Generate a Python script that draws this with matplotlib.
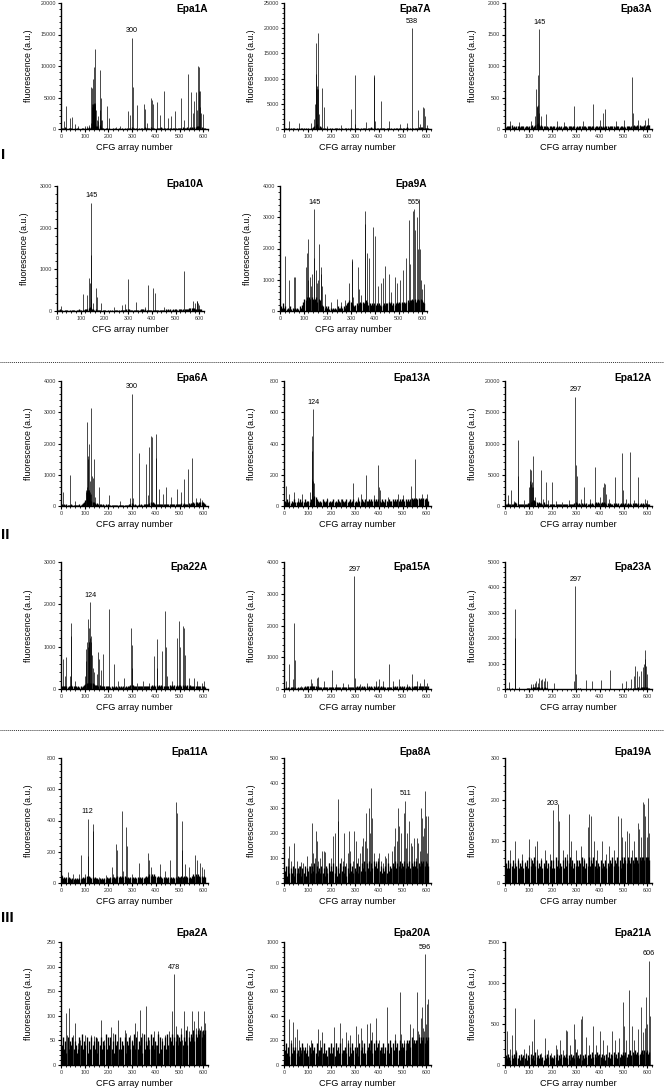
import numpy as np
import matplotlib.pyplot as plt
from matplotlib.ticker import MultipleLocator, FormatStrFormatter

plt.rcParams['font.family'] = ['Liberation Sans', 'DejaVu Sans']

W, H = 664, 1089

# ---- data ------------------------------------------------------------------
names = ['Epa1A', 'Epa7A', 'Epa3A', 'Epa10A', 'Epa9A', 'Epa6A', 'Epa13A', 'Epa12A',
         'Epa22A', 'Epa15A', 'Epa23A', 'Epa11A', 'Epa8A', 'Epa19A', 'Epa2A', 'Epa20A', 'Epa21A']
y_max = [20000, 25000, 2000, 3000, 4000, 4000, 800, 20000,
         3000, 4000, 5000, 800, 500, 300, 250, 1000, 1500]
y_step = [5000, 5000, 500, 1000, 1000, 1000, 200, 5000,
          1000, 1000, 1000, 200, 100, 100, 50, 200, 500]
labelled = [[300], [538], [145], [145], [145, 565], [300], [124], [297],
            [124], [297], [297], [112], [511], [203], [478], [596], [606]]

# background level per 5 array numbers (digit x unit)
noise_unit = [80, 100, 10, 10, 50, 20, 7, 100, 15, 15, 12, 8, 10, 7, 8, 25, 20]
epa1a_noise = "1203102110 0101100120 1213246796 5473210110 1001010010 0101010123 2101010112 3121232120 2121312101 1210121012 2131213232 3243565432 21"
epa7a_noise = "2101210120 1010121010 1012458931 5310101010 1012101010 0121012101 1210101210 1213121012 1012101210 1010121010 1213101210 1213243212 12"
epa3a_noise = "3545463534 4534543453 5463578964 6454353453 4534353435 4534543453 5345434535 4535434534 4353454345 4534543453 5345434565 5646545756 67"
epa10a_noise = "3242312231 2132213243 2324568974 5343232123 2121212132 2123232345 4323232323 4543432323 3232323232 3434343434 4345434545 6787876565 54"
epa9a_noise = "3252312131 2121213246 8797989878 9687343232 3121212132 2323245676 5434545656 5676454545 4545434545 5656454565 6565656767 7878678787 65"
epa6a_noise = "3242321232 2121232356 9978987654 5343232323 2121212121 2121212345 3232232323 3434565654 4343434343 3434343434 4545434545 5656657676 54"
epa13a_noise = "5464535464 4546454645 5465798654 5465456454 5645465465 4564564564 5465465465 5656565656 5465465465 5656565656 6565656767 6767676767 65"
epa12a_noise = "3454343565 3434343435 5789986565 5464343434 3434343434 3434343456 5454545454 4545456565 5656545454 4545454545 4545454545 5454545454 43"
epa22a_noise = "4545434565 4543434356 8999999876 6565454545 4343434343 4343434567 6545454545 4545456565 6565654545 5656565656 6565656565 4545454545 43"
epa15a_noise = "3434345434 3434345656 6767676565 5454545454 4545454545 4545454545 5656565656 5656565656 5656545454 5656565656 5656565656 6767676767 56"
epa23a_noise = "1212121011 1010101123 4545565654 4545321010 1010101010 0101010101 1212101010 1010101010 1010101010 1010101010 1212121213 3454565656 43"
epa11a_noise = "6454545434 3434343454 5656545454 4343434354 4545545656 5656545454 5454545454 5656767676 5656545454 5454545465 5656565454 6767676565 65"
epa8a_noise = "5737464736 4647364736 5747584756 4746374857 5847364857 4736485746 5847586958 6958697869 5746574857 6879687968 7968796879 7968798979 87"
epa19a_noise = "7585768576 8576857685 9687968576 8576857685 8596857685 9687968576 8687968576 9687968576 8576857687 9687968597 9879879879 9879899899 98"
epa2a_noise = "5746374657 4653475846 5736475647 3657465847 5746385647 4657365746 5847465738 4657485746 5837465748 5768576857 6857695768 7968798979 89"
epa20a_noise = "5746374656 4536475645 3647564735 5647453647 4637564745 5647364756 4637564745 6758475867 5647465748 6758675867 6758786978 7889798979 89"
epa21a_noise = "6475364758 4637564736 5746385647 4536475645 4657364756 5746375648 5647364756 6748575867 5746375847 6857485768 6857796879 7867897989 78"

# individual spikes: (CFG array number, fluorescence)
epa1a_peaks = [(11, 1200), (20, 3700), (40, 1700), (45, 1900), (58, 800), (70, 400), (100, 400), (110, 500),
               (118, 600), (125, 900), (128, 6600), (130, 4000), (131, 6500), (132, 3500), (133, 4000),
               (134, 4000), (135, 3500), (136, 3800), (137, 8000), (138, 3900), (139, 4000), (140, 4100),
               (141, 9800), (142, 3600), (143, 4200), (144, 3900), (145, 12700), (147, 3000), (150, 1500),
               (155, 2000), (158, 1200), (163, 9400), (166, 3000), (168, 1500), (170, 5000), (173, 1500),
               (192, 3600), (203, 1700), (230, 300), (250, 400), (283, 2900), (292, 2300), (300, 14500),
               (303, 6700), (320, 3800), (350, 4000), (355, 3200), (362, 1000), (378, 4900), (385, 4600),
               (390, 4000), (403, 4300), (417, 2200), (435, 6000), (450, 1800), (462, 2000), (480, 2800),
               (506, 5000), (520, 1500), (535, 8700), (547, 5800), (555, 2500), (563, 4400), (568, 5800),
               (574, 3000), (577, 10000), (580, 6000), (583, 9900), (585, 6000), (588, 3500), (592, 2600),
               (600, 2400)]
epa7a_peaks = [(23, 1600), (62, 1200), (115, 1200), (128, 2000), (131, 5000), (133, 11000), (135, 8000),
               (137, 17000), (138, 8000), (140, 8500), (142, 19000), (144, 8000), (146, 3000), (162, 8100),
               (167, 4400), (180, 500), (240, 800), (284, 4000), (298, 10800), (301, 1000), (346, 1300),
               (378, 10700), (380, 10400), (382, 1500), (410, 5500), (444, 1500), (488, 1000), (520, 1200),
               (538, 20000), (565, 3700), (575, 1000), (585, 4300), (590, 4200), (596, 2600), (605, 800)]
epa3a_peaks = [(20, 120), (60, 110), (110, 130), (125, 200), (130, 630), (134, 370), (136, 350), (138, 850),
               (140, 380), (142, 250), (145, 1580), (150, 200), (174, 240), (220, 120), (250, 110),
               (290, 370), (330, 120), (371, 400), (400, 150), (415, 250), (420, 320), (470, 120),
               (500, 140), (537, 820), (540, 250), (560, 140), (590, 150), (604, 180)]
epa10a_peaks = [(18, 120), (110, 420), (125, 380), (135, 800), (140, 680), (142, 300), (144, 1350),
                (145, 2600), (150, 200), (165, 550), (168, 330), (187, 200), (240, 100), (275, 150),
                (285, 180), (299, 780), (333, 220), (370, 100), (382, 620), (404, 550), (413, 430),
                (450, 100), (537, 950), (573, 230), (580, 200), (589, 250), (592, 240), (596, 200), (600, 150)]
epa9a_peaks = [(21, 1750), (40, 1000), (57, 1100), (62, 1100), (110, 1400), (115, 1850), (118, 1000),
               (120, 2300), (125, 1100), (130, 800), (137, 1200), (142, 1700), (145, 3250), (150, 1300),
               (155, 900), (160, 1000), (165, 2150), (172, 1400), (175, 1200), (178, 800), (190, 550),
               (215, 300), (240, 400), (258, 300), (275, 350), (290, 900), (302, 1650), (305, 1600),
               (308, 450), (329, 1400), (333, 700), (340, 500), (357, 3200), (359, 2800), (369, 1850),
               (375, 1700), (394, 2700), (400, 2400), (415, 800), (426, 900), (435, 1050), (444, 1450),
               (460, 1200), (470, 600), (485, 1100), (495, 900), (506, 1000), (520, 1300), (533, 1700),
               (545, 2900), (550, 1500), (561, 3200), (565, 3250), (570, 2600), (577, 3000), (581, 2000),
               (586, 3600), (590, 2000), (595, 1000), (600, 700), (609, 850)]
epa6a_peaks = [(10, 450), (40, 1000), (60, 150), (105, 500), (106, 450), (108, 2700), (109, 500), (110, 600),
               (111, 480), (112, 1600), (113, 520), (114, 1500), (115, 500), (116, 450), (117, 450),
               (118, 2000), (119, 500), (120, 500), (121, 400), (122, 800), (123, 450), (125, 3150),
               (127, 400), (131, 950), (136, 900), (141, 1500), (145, 300), (159, 600), (201, 350),
               (250, 150), (290, 250), (300, 3600), (305, 250), (330, 1700), (360, 1350), (365, 350),
               (372, 1900), (378, 2250), (382, 2200), (399, 2300), (401, 1550), (412, 550), (430, 400),
               (443, 600), (465, 300), (490, 550), (505, 450), (520, 850), (534, 1200), (554, 1550),
               (570, 250), (585, 250), (595, 200)]
epa13a_peaks = [(7, 130), (20, 80), (42, 90), (60, 50), (75, 80), (110, 90), (116, 170), (118, 450),
                (120, 350), (122, 160), (124, 620), (126, 150), (180, 50), (240, 45), (289, 150), (310, 60),
                (325, 80), (347, 200), (380, 70), (397, 260), (400, 120), (405, 100), (440, 60), (480, 80),
                (500, 70), (536, 130), (554, 300), (580, 80), (605, 75)]
epa12a_peaks = [(14, 1700), (26, 2500), (40, 800), (54, 4800), (56, 10500), (80, 900), (100, 3000),
                (104, 6000), (106, 4000), (108, 5800), (110, 3500), (112, 3800), (114, 3000), (118, 8000),
                (120, 3000), (125, 1500), (153, 5800), (160, 1200), (171, 3900), (180, 1000), (198, 3800),
                (215, 800), (240, 600), (270, 900), (297, 17500), (300, 6600), (303, 4800), (320, 1200),
                (335, 3000), (360, 1200), (379, 6300), (400, 1500), (414, 3000), (416, 3700), (420, 3500),
                (425, 2000), (440, 1200), (462, 4700), (494, 8500), (497, 2500), (510, 1200), (527, 8600),
                (545, 1000), (561, 4700), (590, 1200), (600, 1000)]
epa22a_peaks = [(9, 700), (18, 300), (23, 750), (40, 300), (43, 1250), (44, 1550), (60, 200), (100, 300),
                (105, 650), (107, 950), (110, 1100), (112, 1000), (115, 1650), (117, 1100), (118, 1450),
                (120, 1100), (122, 1200), (124, 2050), (126, 1100), (128, 1250), (131, 800), (133, 500),
                (140, 400), (150, 350), (155, 880), (160, 700), (170, 450), (176, 820), (204, 1880),
                (222, 600), (240, 200), (266, 250), (296, 1450), (298, 1050), (301, 500), (320, 150),
                (346, 200), (370, 150), (391, 780), (403, 1170), (405, 500), (426, 900), (439, 1850),
                (441, 1000), (445, 300), (470, 200), (488, 1200), (497, 1600), (500, 1000), (515, 1500),
                (518, 1450), (522, 800), (540, 250), (560, 250), (575, 200), (595, 150), (605, 200)]
epa15a_peaks = [(9, 250), (23, 780), (40, 300), (44, 2080), (45, 900), (70, 100), (112, 300), (120, 200),
                (140, 350), (145, 380), (168, 250), (204, 600), (220, 150), (250, 180), (270, 150),
                (297, 3550), (300, 350), (320, 150), (350, 180), (390, 250), (400, 300), (417, 250),
                (444, 780), (460, 250), (487, 300), (520, 150), (538, 480), (560, 250), (575, 200),
                (591, 300), (603, 200)]
epa23a_peaks = [(18, 280), (41, 3150), (42, 2000), (60, 80), (110, 200), (116, 200), (125, 250), (130, 300),
                (140, 250), (145, 450), (150, 350), (158, 400), (165, 300), (170, 450), (176, 300),
                (206, 250), (290, 300), (297, 4050), (300, 600), (340, 350), (368, 300), (405, 350),
                (444, 750), (493, 250), (510, 300), (530, 400), (545, 500), (550, 900), (556, 700),
                (565, 500), (573, 700), (580, 850), (585, 1000), (589, 1200), (591, 1550), (595, 900),
                (600, 600)]
epa11a_peaks = [(5, 50), (30, 70), (50, 60), (75, 60), (85, 180), (100, 60), (112, 410), (115, 170),
                (135, 380), (137, 330), (160, 40), (190, 50), (213, 100), (220, 60), (231, 250), (235, 210),
                (256, 460), (260, 80), (275, 360), (278, 240), (300, 60), (330, 130), (368, 190), (372, 150),
                (380, 100), (417, 120), (440, 80), (458, 150), (485, 520), (488, 450), (510, 400), (512, 210),
                (525, 120), (540, 100), (565, 180), (575, 150), (585, 130), (595, 100), (605, 90)]
epa8a_peaks = [(8, 60), (15, 100), (23, 150), (30, 90), (44, 160), (55, 90), (62, 70), (70, 85), (80, 80),
               (88, 60), (95, 110), (105, 70), (112, 80), (119, 240), (122, 120), (130, 100), (137, 210),
               (140, 170), (145, 90), (150, 100), (160, 130), (169, 130), (175, 125), (183, 60), (190, 80),
               (198, 100), (208, 190), (215, 200), (226, 250), (229, 335), (240, 100), (248, 90), (254, 200),
               (260, 80), (268, 120), (275, 210), (280, 130), (290, 90), (297, 210), (305, 170), (312, 100),
               (320, 120), (328, 150), (335, 180), (340, 170), (346, 280), (352, 140), (360, 300), (363, 200),
               (369, 380), (372, 260), (380, 120), (388, 90), (395, 100), (402, 120), (410, 90), (418, 80),
               (425, 110), (432, 100), (440, 120), (448, 60), (455, 130), (462, 150), (470, 220), (475, 170),
               (480, 300), (486, 230), (495, 200), (506, 280), (511, 330), (515, 140), (520, 200), (528, 250),
               (535, 160), (540, 150), (548, 180), (555, 100), (560, 180), (566, 160), (572, 130), (577, 300),
               (581, 260), (585, 190), (590, 220), (595, 370), (598, 270), (603, 120), (608, 270)]
epa19a_peaks = [(23, 80), (41, 100), (55, 60), (70, 70), (85, 50), (102, 105), (110, 60), (125, 90),
                (134, 100), (150, 60), (170, 80), (188, 70), (203, 175), (215, 60), (223, 190), (227, 150),
                (245, 80), (260, 70), (268, 165), (280, 100), (300, 80), (320, 90), (335, 60), (348, 135),
                (355, 165), (362, 160), (375, 100), (390, 80), (410, 100), (425, 70), (440, 90), (460, 80),
                (477, 160), (490, 155), (495, 110), (505, 100), (515, 125), (523, 120), (535, 80), (545, 100),
                (560, 145), (565, 130), (572, 110), (580, 195), (585, 190), (590, 160), (598, 110),
                (604, 205), (608, 120)]
epa2a_peaks = [(10, 55), (21, 105), (25, 60), (33, 115), (40, 45), (50, 60), (58, 85), (70, 45), (80, 50),
               (100, 60), (110, 55), (128, 60), (140, 58), (150, 55), (167, 92), (180, 50), (190, 60),
               (212, 78), (218, 65), (228, 50), (240, 92), (250, 55), (268, 72), (275, 65), (290, 60),
               (300, 50), (310, 85), (320, 70), (335, 112), (340, 65), (357, 120), (370, 50), (380, 60),
               (392, 70), (400, 40), (410, 70), (425, 55), (440, 60), (455, 70), (470, 110), (478, 185),
               (485, 80), (492, 60), (506, 75), (512, 50), (520, 110), (530, 80), (540, 70), (552, 110),
               (560, 90), (570, 75), (577, 110), (583, 75), (590, 80), (596, 70), (604, 110), (608, 85)]
epa20a_peaks = [(10, 170), (23, 370), (30, 200), (36, 350), (45, 230), (53, 290), (62, 200), (70, 120),
                (80, 150), (90, 100), (98, 180), (105, 160), (115, 200), (125, 120), (142, 290), (150, 200),
                (160, 270), (170, 100), (185, 150), (200, 120), (210, 310), (220, 180), (236, 340),
                (245, 220), (261, 270), (270, 200), (280, 240), (302, 320), (310, 250), (323, 300),
                (330, 200), (352, 330), (364, 340), (370, 270), (389, 380), (400, 200), (415, 150),
                (435, 470), (445, 150), (460, 120), (470, 250), (488, 590), (495, 250), (505, 200),
                (515, 180), (530, 330), (542, 300), (550, 200), (560, 590), (565, 280), (570, 250),
                (577, 380), (583, 470), (588, 300), (592, 280), (596, 900), (600, 330), (604, 500), (609, 540)]
epa21a_peaks = [(9, 420), (20, 200), (30, 370), (41, 700), (45, 180), (60, 120), (80, 200), (90, 150),
                (103, 240), (115, 290), (124, 560), (135, 200), (150, 150), (169, 330), (180, 180),
                (195, 150), (213, 250), (220, 200), (231, 300), (245, 180), (258, 430), (262, 420),
                (275, 250), (293, 500), (296, 320), (305, 200), (320, 560), (325, 600), (340, 340),
                (355, 250), (373, 470), (385, 250), (400, 420), (415, 300), (430, 250), (453, 420),
                (465, 300), (480, 330), (497, 770), (500, 480), (510, 300), (524, 920), (535, 470),
                (545, 300), (560, 440), (572, 710), (580, 400), (590, 450), (595, 830), (600, 500),
                (606, 1270), (610, 600)]

noises = [epa1a_noise, epa7a_noise, epa3a_noise, epa10a_noise, epa9a_noise, epa6a_noise, epa13a_noise,
          epa12a_noise, epa22a_noise, epa15a_noise, epa23a_noise, epa11a_noise, epa8a_noise,
          epa19a_noise, epa2a_noise, epa20a_noise, epa21a_noise]
peaks = [epa1a_peaks, epa7a_peaks, epa3a_peaks, epa10a_peaks, epa9a_peaks, epa6a_peaks, epa13a_peaks,
         epa12a_peaks, epa22a_peaks, epa15a_peaks, epa23a_peaks, epa11a_peaks, epa8a_peaks,
         epa19a_peaks, epa2a_peaks, epa20a_peaks, epa21a_peaks]

# ---- layout (pixels) -------------------------------------------------------
row_top = [3, 186, 381, 562, 758, 942]
row_bottom = [129, 311, 506, 689, 883, 1065]
title_y = [9, 184, 378, 567, 752, 933]
col_left = [61, 284, 505]
row2_left = [57, 280]
ax_w = 147
grid = [(0, 0), (0, 1), (0, 2), (1, 0), (1, 1), (2, 0), (2, 1), (2, 2),
        (3, 0), (3, 1), (3, 2), (4, 0), (4, 1), (4, 2), (5, 0), (5, 1), (5, 2)]

fig = plt.figure(figsize=(W / 100, H / 100), dpi=100)

for i, name in enumerate(names):
    r, c = grid[i]
    left = row2_left[c] if r == 1 else col_left[c]
    top, bot = row_top[r], row_bottom[r]
    ax = fig.add_axes([left / W, 1 - bot / H, ax_w / W, (bot - top) / H])

    lev = np.array([int(ch) for ch in noises[i].replace(' ', '')])
    nx = 3 + 5 * np.arange(len(lev))
    ax.vlines(nx, 0, lev * noise_unit[i], color='black', lw=0.95)

    px = [p[0] for p in peaks[i]]
    ph = [p[1] for p in peaks[i]]
    ax.vlines(px, 0, ph, color='black', lw=0.5)

    lookup = dict(peaks[i])
    for n in labelled[i]:
        ax.annotate(str(n), (n, lookup[n]), xytext=(0, 2.5), textcoords='offset points',
                    ha='center', va='bottom', fontsize=5.2)

    ax.set_xlim(0, 620)
    ax.set_ylim(0, y_max[i])
    ax.xaxis.set_major_locator(MultipleLocator(100))
    ax.xaxis.set_minor_locator(MultipleLocator(20))
    ax.yaxis.set_major_locator(MultipleLocator(y_step[i]))
    ax.yaxis.set_minor_locator(MultipleLocator(y_step[i] / 5))
    ax.yaxis.set_major_formatter(FormatStrFormatter('%d'))
    for s in ['top', 'right']:
        ax.spines[s].set_visible(False)
    for s in ['left', 'bottom']:
        ax.spines[s].set_linewidth(1.0)
    ax.tick_params(which='major', length=2.5, width=0.8, labelsize=3.9, pad=1.2, labelcolor='#333333')
    ax.tick_params(which='minor', length=1.5, width=0.6)

    ax.set_ylabel('fluorescence (a.u.)', fontsize=6.3)
    ax.yaxis.set_label_coords(-0.19, 0.5)
    ax.set_xlabel('CFG array number', fontsize=6.6)
    ax.xaxis.set_label_coords(0.5, -0.11)

    fig.text((left + ax_w) / W, 1 - title_y[r] / H, name, ha='right', va='center',
             fontsize=7.3, fontweight='bold')

# group labels and separators
for lab, yy in [('I', 155), ('II', 535), ('III', 918)]:
    fig.text(1 / W, 1 - yy / H, lab, ha='left', va='center', fontsize=11, fontweight='bold')
for yy in [362, 730]:
    fig.add_artist(plt.Line2D([0, 1], [1 - yy / H] * 2, color='#333333', lw=0.7,
                              linestyle=(0, (1, 1)), transform=fig.transFigure))

fig.savefig('out.png', dpi=100)
